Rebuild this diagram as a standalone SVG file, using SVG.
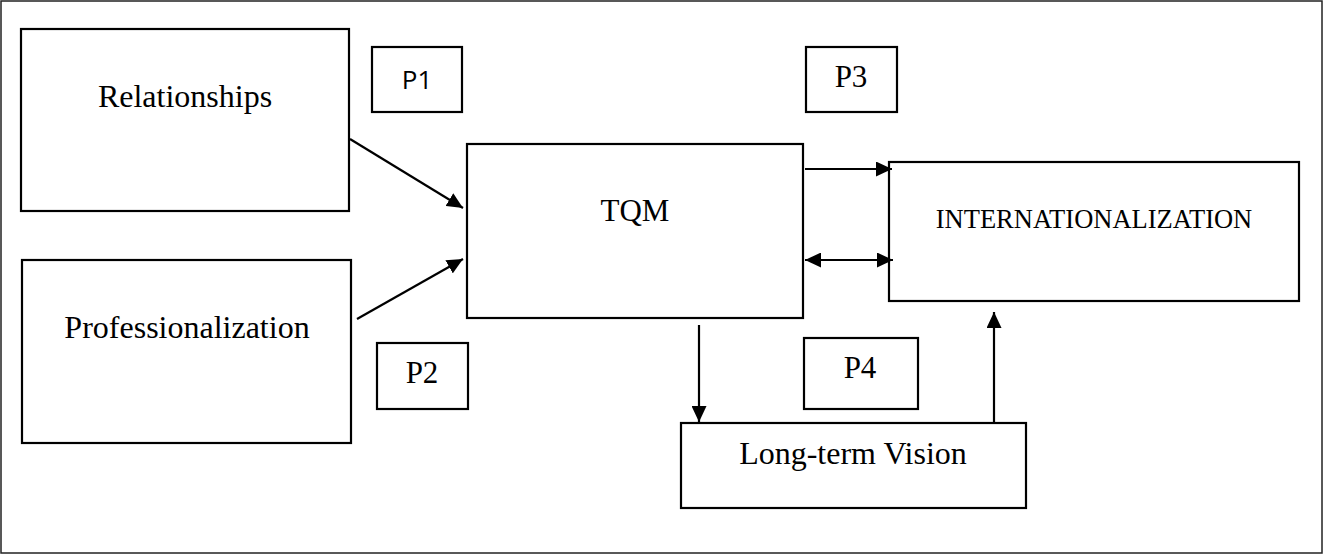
<svg xmlns="http://www.w3.org/2000/svg" width="1325" height="554" viewBox="0 0 1325 554">
<style>
.box{fill:#fff;stroke:#000;stroke-width:2.2}
.lbl{font-family:"Liberation Serif","Times New Roman",serif;fill:#000;text-anchor:middle}
.p1{font-family:"Open Sans","Liberation Sans",sans-serif;fill:#000;text-anchor:middle}
.conn{fill:none;stroke:#000;stroke-width:2.2}
</style>
<defs>
<marker id="ah" markerUnits="userSpaceOnUse" markerWidth="17" markerHeight="15" refX="16" refY="7.5" orient="auto-start-reverse" viewBox="0 0 17 15">
<path d="M0,0 L16,7.5 L0,15 Z" fill="#000"/>
</marker>
</defs>
<rect x="1" y="1" width="1321" height="552" fill="#fff" stroke="#222" stroke-width="1.5"/>
<g id="relationships">
<rect class="box" x="21" y="29" width="328" height="182"/>
<text class="lbl" x="185" y="107" font-size="32">Relationships</text>
</g>
<g id="professionalization">
<rect class="box" x="22" y="260" width="329" height="183"/>
<text class="lbl" x="187" y="338" font-size="32">Professionalization</text>
</g>
<g id="tqm">
<rect class="box" x="467" y="144" width="336" height="174"/>
<text class="lbl" x="635" y="221" font-size="31">TQM</text>
</g>
<g id="internationalization">
<rect class="box" x="889" y="162" width="410" height="139"/>
<text class="lbl" x="1094" y="228" font-size="26.5">INTERNATIONALIZATION</text>
</g>
<g id="longterm">
<rect class="box" x="681" y="423" width="345" height="85"/>
<text class="lbl" x="853" y="464" font-size="32">Long-term Vision</text>
</g>
<g id="p1">
<rect class="box" x="372" y="47" width="90" height="65"/>
<text class="p1" x="417" y="89" font-size="26">P1</text>
</g>
<g id="p2">
<rect class="box" x="377" y="343" width="91" height="66"/>
<text class="lbl" x="422" y="383" font-size="31">P2</text>
</g>
<g id="p3">
<rect class="box" x="806" y="47" width="91" height="65"/>
<text class="lbl" x="851" y="87" font-size="31">P3</text>
</g>
<g id="p4">
<rect class="box" x="804" y="338" width="114" height="71"/>
<text class="lbl" x="860" y="378" font-size="31">P4</text>
</g>
<g id="connectors">
<line class="conn" x1="350" y1="139" x2="463" y2="208" marker-end="url(#ah)"/>
<line class="conn" x1="357" y1="319" x2="463" y2="259" marker-end="url(#ah)"/>
<line class="conn" x1="805" y1="169" x2="892" y2="169" marker-end="url(#ah)"/>
<line class="conn" x1="805" y1="260" x2="893" y2="260" marker-start="url(#ah)" marker-end="url(#ah)"/>
<line class="conn" x1="699" y1="325" x2="699" y2="422" marker-end="url(#ah)"/>
<line class="conn" x1="994" y1="423" x2="994" y2="312" marker-end="url(#ah)"/>
</g>
</svg>
